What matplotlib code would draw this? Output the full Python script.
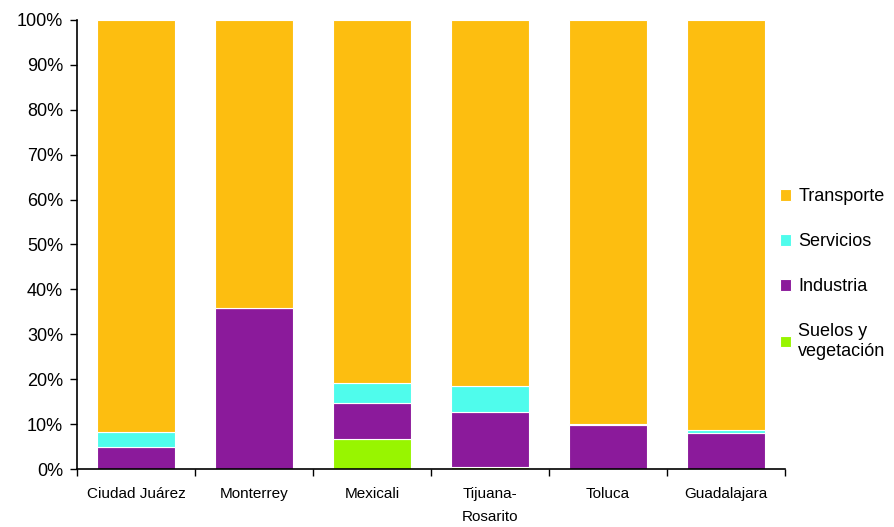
import matplotlib.pyplot as plt
import numpy as np

plt.rcParams['font.family'] = ['Liberation Sans', 'DejaVu Sans']

ciudades = ["Ciudad Juárez", "Monterrey", "Mexicali", "Tijuana-\nRosarito", "Toluca", "Guadalajara"]
suelos = [0.0, 0.0, 6.6, 0.4, 0.0, 0.0]
industria = [5.0, 35.9, 8.0, 12.4, 9.8, 8.1]
servicios = [3.2, 0.0, 4.6, 5.6, 0.3, 0.6]
transporte = [100 - a - b - c for a, b, c in zip(suelos, industria, servicios)]

colores = {
    "Transporte": "#FDBE10",
    "Servicios": "#4FFCEC",
    "Industria": "#8B1A9B",
    "Suelos y\nvegetación": "#98F500",
}

fig = plt.figure(figsize=(8.95, 5.27), dpi=100)
ax = fig.add_axes([77 / 895, 58 / 527, 708 / 895, 449 / 527])

x = np.arange(len(ciudades))
w = 0.66
bottom = np.zeros(len(ciudades))
series = [("Suelos y\nvegetación", suelos), ("Industria", industria),
          ("Servicios", servicios), ("Transporte", transporte)]
handles = {}
for name, vals in series:
    b = ax.bar(x, vals, w, bottom=bottom, color=colores[name],
               edgecolor="white", linewidth=0.8, label=name)
    handles[name] = b
    bottom += np.array(vals)

ax.set_xlim(-0.5, len(ciudades) - 0.5)
ax.set_ylim(0, 100)
ax.set_yticks(np.arange(0, 101, 10))
ax.set_yticklabels([f"{v}%" for v in range(0, 101, 10)], fontsize=13)
ax.tick_params(axis="y", direction="out", length=5, width=1, pad=5)

ax.set_xticks(np.arange(-0.5, len(ciudades), 1))
ax.set_xticklabels([])
ax.set_xticks(x, minor=True)
ax.set_xticklabels(ciudades, minor=True, fontsize=11, linespacing=1.8, va="top")
ax.tick_params(axis="x", which="major", direction="out", length=5, width=1)
ax.tick_params(axis="x", which="minor", length=0, pad=13)

for s in ["top", "right"]:
    ax.spines[s].set_visible(False)
for s in ["left", "bottom"]:
    ax.spines[s].set_linewidth(1.2)

order = ["Transporte", "Servicios", "Industria", "Suelos y\nvegetación"]
fig.legend([handles[n] for n in order], order, loc="upper left",
           bbox_to_anchor=(764 / 895, 1 - 172 / 527), frameon=False,
           fontsize=13, handlelength=0.6, handleheight=0.6,
           handletextpad=0.4, labelspacing=1.55)

fig.savefig("out.png", dpi=100)
